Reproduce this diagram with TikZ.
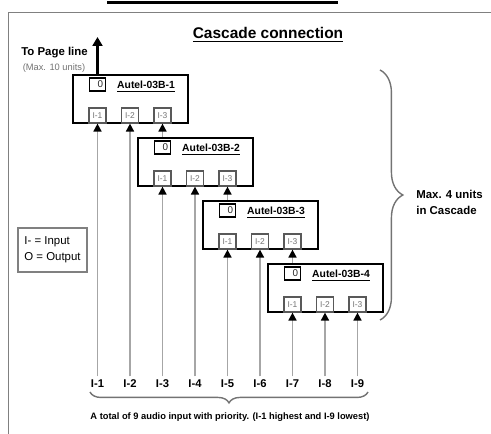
\documentclass[tikz,border=0pt]{standalone}
\usepackage{fontspec}
\setmainfont{Liberation Sans}
\usetikzlibrary{arrows.meta,decorations.pathreplacing}

\begin{document}
\begin{tikzpicture}[scale=0.2]
\tikzstyle{every node}+=[inner sep=0pt]
\tikzstyle{unitbox}=[draw, line width=1.3pt, minimum width=2.3cm, minimum height=0.96cm]
\tikzstyle{outbox}=[draw, line width=0.7pt, text width=6.4pt, minimum height=0.26cm, inner xsep=1.5pt, align=right, text=black!85, font=\fontsize{5.6}{5.6}\selectfont]
\tikzstyle{inbox}=[draw=black!65, line width=0.7pt, minimum width=0.34cm, minimum height=0.3cm, text=black!55, font=\fontsize{4.8}{4.8}\selectfont]
\tikzstyle{unitname}=[anchor=base, font=\bfseries\fontsize{5.9}{6}\selectfont]
\tikzstyle{chan}=[anchor=base, inner sep=2pt, font=\bfseries\fontsize{6.4}{7}\selectfont]
\tikzstyle{feed}=[black!35, line width=1pt, -{Triangle[color=black, width=4.5pt, length=4.5pt]}]
\tikzstyle{gbrace}=[black!55, line width=0.8pt, decorate]
\useasboundingbox (0,0) rectangle (49.1,-43.4);
% frame and heading
\draw [black!50, line width=1.1pt] (49.1,-1.25) -- (0.85,-1.25) -- (0.85,-43.4);
\fill [black] (10.7,-0.1) rectangle (33.8,-0.4);
\draw (26.8,-3.9) node [anchor=base, font=\bfseries\fontsize{8.8}{10}\selectfont] (title) {\underline{Cascade connection}};
\draw (5.45,-5.6) node [anchor=base, font=\bfseries\fontsize{6.5}{7}\selectfont] (pagetxt) {To Page line};
\draw (5.4,-7.1) node [anchor=base, text=black!55, font=\fontsize{5.3}{6}\selectfont] (pagemax) {(Max. 10 units)};
% unit 1
\draw (13.05,-9.9) node [unitbox] (u1) {};
\draw (9.75,-8.45) node [outbox] (o1) {0};
\draw (14.6,-8.9) node [unitname] (n1) {\underline{Autel-03B-1}};
\draw (9.75,-11.55) node [inbox] (u1a) {I-1};
\draw (13.0,-11.55) node [inbox] (u1b) {I-2};
\draw (16.25,-11.55) node [inbox] (u1c) {I-3};
% unit 2
\draw (19.55,-16.2) node [unitbox] (u2) {};
\draw (16.25,-14.75) node [outbox] (o2) {0};
\draw (21.1,-15.2) node [unitname] (n2) {\underline{Autel-03B-2}};
\draw (16.25,-17.85) node [inbox] (u2a) {I-1};
\draw (19.5,-17.85) node [inbox] (u2b) {I-2};
\draw (22.75,-17.85) node [inbox] (u2c) {I-3};
% unit 3
\draw (26.05,-22.5) node [unitbox] (u3) {};
\draw (22.75,-21.05) node [outbox] (o3) {0};
\draw (27.6,-21.5) node [unitname] (n3) {\underline{Autel-03B-3}};
\draw (22.75,-24.15) node [inbox] (u3a) {I-1};
\draw (26.0,-24.15) node [inbox] (u3b) {I-2};
\draw (29.25,-24.15) node [inbox] (u3c) {I-3};
% unit 4
\draw (32.55,-28.8) node [unitbox] (u4) {};
\draw (29.25,-27.35) node [outbox] (o4) {0};
\draw (34.1,-27.8) node [unitname] (n4) {\underline{Autel-03B-4}};
\draw (29.25,-30.45) node [inbox] (u4a) {I-1};
\draw (32.5,-30.45) node [inbox] (u4b) {I-2};
\draw (35.75,-30.45) node [inbox] (u4c) {I-3};
% output to page line
\coordinate (page) at (9.75,-3.7);
\draw [black, line width=1.7pt, -{Triangle[width=5.5pt, length=5pt]}] (o1 |- u1.north) -- (page);
% cascade links
\draw [feed] (o2 |- u2.north) -- (u1c.south);
\draw [feed] (o3 |- u3.north) -- (u2c.south);
\draw [feed] (o4 |- u4.north) -- (u3c.south);
% audio inputs
\draw (9.75,-38.8) node [chan] (l1) {I-1};
\draw (13.0,-38.8) node [chan] (l2) {I-2};
\draw (16.25,-38.8) node [chan] (l3) {I-3};
\draw (19.5,-38.8) node [chan] (l4) {I-4};
\draw (22.75,-38.8) node [chan] (l5) {I-5};
\draw (26.0,-38.8) node [chan] (l6) {I-6};
\draw (29.25,-38.8) node [chan] (l7) {I-7};
\draw (32.5,-38.8) node [chan] (l8) {I-8};
\draw (35.75,-38.8) node [chan] (l9) {I-9};
\draw [feed] (l1.north) -- (u1a.south);
\draw [feed] (l2.north) -- (u1b.south);
\draw [feed] (l3.north) -- (u2a.south);
\draw [feed] (l4.north) -- (u2b.south);
\draw [feed] (l5.north) -- (u3a.south);
\draw [feed] (l6.north) -- (u3b.south);
\draw [feed] (l7.north) -- (u4a.south);
\draw [feed] (l8.north) -- (u4b.south);
\draw [feed] (l9.north) -- (u4c.south);
% legend, braces and notes
\draw (5.25,-25.0) node [draw=black!50, line width=0.6pt, minimum width=1.38cm, minimum height=0.88cm, align=left, font=\fontsize{6.5}{9}\selectfont] (legend) {I- = Input\\O = Output};
\draw [gbrace, decoration={brace, amplitude=13pt}] (38.0,-7.0) -- (38.0,-32.0);
\draw (41.6,-20.25) node [anchor=west, align=left, font=\bfseries\fontsize{6.5}{9}\selectfont] (maxtxt) {Max. 4 units\\in Cascade};
\draw [gbrace, decoration={brace, amplitude=6.2pt}] (36.8,-39.2) -- (9.0,-39.2);
\draw (23.0,-42.0) node [anchor=base, font=\bfseries\fontsize{5.3}{6}\selectfont] (total) {A total of 9 audio input with priority. (I-1 highest and I-9 lowest)};
\end{tikzpicture}
\end{document}
